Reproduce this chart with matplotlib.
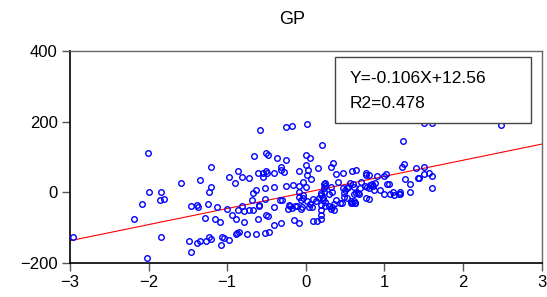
"""GP scatter with fitted line and equation box."""
import matplotlib
matplotlib.use("Agg")
import matplotlib.pyplot as plt
from matplotlib.patches import Rectangle

plt.rcParams["font.family"] = ["Liberation Sans", "DejaVu Sans"]

# ---------------------------------------------------------------------------
# Data
# ---------------------------------------------------------------------------
gp_x = [
    -2.96, -2.19, -2.09, -2.01, -2.00, -2.02, -1.84, -1.86, -1.81, -1.84,
    -1.59, -1.48, -1.46, -1.46, -1.39, -1.37, -1.35, -1.38, -1.35, -1.27,
    -1.28, -1.24, -1.23, -1.23, -1.21, -1.21, -1.20, -1.15, -1.13, -1.09,
    -1.08, -1.06, -1.04, -1.00, -0.98, -0.98,
    -0.94, -0.89, -0.79, -0.90, -0.86, -0.81, -0.72,
    -0.89, -0.87, -0.85, -0.75, -0.63, -0.52, -0.47,
    -0.81, -0.86, -0.79, -0.72, -0.67,
    -0.69, -0.52, -0.33, -0.30,
    -0.63, -0.67, -0.52, -0.40,
    -0.61, -0.51, -0.48, -0.60, -0.59, -0.40, -0.40, -0.31,
    -0.66, -0.61, -0.58, -0.54, -0.51, -0.49, -0.55,
    -0.50, -0.48, -0.40, -0.36, -0.32, -0.31, -0.28,
    -0.25, -0.18, -0.25, -0.25, -0.16,
    -0.23, -0.20, -0.18, -0.21, -0.15, -0.09,
    -0.14, -0.11, -0.06, -0.05,
    -0.09, -0.09, -0.09, -0.09, -0.06, -0.04, -0.03, -0.04,
    0.00, 0.06, 0.02, 0.00, 0.03, 0.00, 0.01, 0.07,
    0.01, 0.04, 0.08, 0.05, 0.09, 0.13, 0.17, 0.20,
    0.09, 0.14, 0.20, 0.19, 0.15, 0.21,
    0.20, 0.22, 0.23, 0.23,
    1.24, 0.35, 0.32, 0.39, 0.48, 0.59, 0.64, 0.77, 0.77, 0.81,
    0.90, 0.99, 1.02, 1.22, 1.25, 1.40, 1.50, 1.43, 1.33, 1.26, 1.32,
    0.24, 0.25, 0.23, 0.32, 0.33, 0.29, 0.41,
    0.48, 0.50, 0.52, 0.54, 0.49, 0.56, 0.60, 0.62, 0.70, 0.69,
    0.66, 0.68, 0.64, 0.61, 0.62, 0.57, 0.59, 0.63,
    0.49, 0.52, 0.46, 0.38, 0.36, 0.33, 0.36, 0.32, 0.29, 0.25, 0.24, 0.20,
    0.22, 0.20,
    0.76, 0.78, 0.80, 0.82, 0.85, 0.87, 0.84, 0.88, 0.77, 0.81,
    0.94, 0.99, 1.03, 1.06, 1.07, 1.11, 1.12, 1.18, 1.20, 1.20,
    1.51, 1.57, 1.61, 1.61, 1.44, 1.50, 1.60, 2.48,
    0.43, 0.63, 0.57,
]
gp_y = [
    -127, -76, -32, 110, 2, -187, 2, -22, -18, -127,
    27, -137, -168, -38, -36, -42, 35, -143, -138, -139,
    -73, -32, 1, -126, -133, 71, 15, -76, -42, -84,
    -149, -126, -129, -46, 42, -135,
    -63, -75, -84, 27, 60, 43, 41,
    -119, -115, -113, -118, -117, -115, -111,
    -38, -49, -52, -50, -51,
    -22, -19, -22, -22,
    7, -2, 12, 14,
    -75, -64, -68, -39, -36, -41, -93, -86,
    102, 55, 175, 55, 59, 54, 43,
    111, 106, 55, 98, 71, 62, 56,
    184, 188, 92, 18, 21,
    -48, -40, -44, -35, -78, -86,
    -39, -39, -47, -42,
    61, 18, 2, -14, -22, -9, -15, 28,
    105, 96, 192, 77, 64, 15, 50, 38,
    -26, -41, -41, -34, -19, -26, -17, -9,
    -81, -80, -77, -65, 69, 133,
    -36, -23, 0, 12,
    146, 84, 71, 53, 55, 61, 64, 55, 50, 50,
    45, 47, 53, 71, 79, 70, 71, 39, 24, 38, 2,
    27, 19, 23, 16, 1, -4, 28,
    11, 5, 13, 14, -1, 26, 24, 14, 30, 12,
    -1, -6, -1, -5, -26, -24, -31, -29,
    -12, -16, -31, -21, -33, -42, -51, -48, -38, -28, -38, -50,
    -16, -3,
    18, 14, 11, 21, 17, 5, 24, 26, -17, -19,
    5, -5, 24, 24, -6, 0, -7, -5, 0, -5,
    52, 54, 46, 11, 39, 195, 197, 189,
    -30, -30, -31,
]

# fitted line as drawn in the reference
fit_x = [-3, 3]
fit_y = [-137, 136]

eq_label = "Y=-0.106X+12.56"
r2_label = "R2=0.478"

x_ticks = [-3, -2, -1, 0, 1, 2, 3]
y_ticks = [-200, 0, 200, 400]

# ---------------------------------------------------------------------------
# Plot
# ---------------------------------------------------------------------------
fig = plt.figure(figsize=(5.47, 2.97), dpi=100)
ax = fig.add_axes([0.128, 0.1145, 0.862, 0.7145])

ax.plot(fit_x, fit_y, color="red", lw=0.8, zorder=2)
ax.plot(gp_x, gp_y, ls="none", marker="o", ms=4.0, mfc="none",
        mec="blue", mew=1.0, zorder=3)

ax.set_xlim(-3, 3)
ax.set_ylim(-200, 400)
ax.set_xticks(x_ticks)
ax.set_yticks(y_ticks)
ax.tick_params(axis="both", direction="out", length=6, width=1,
               color="#555555", labelsize=12, pad=3)

for side in ("left", "bottom"):
    ax.spines[side].set_color("black")
    ax.spines[side].set_linewidth(1.2)
for side in ("top", "right"):
    ax.spines[side].set_color("#666666")
    ax.spines[side].set_linewidth(1.0)

# equation box
ax.add_patch(Rectangle((0.562, 0.661), 0.415, 0.311, transform=ax.transAxes,
                       facecolor="white", edgecolor="#444444", lw=1.0,
                       zorder=5))
ax.text(0.592, 0.871, eq_label, transform=ax.transAxes, fontsize=12.5,
        va="center", ha="left", zorder=6)
ax.text(0.592, 0.752, r2_label, transform=ax.transAxes, fontsize=12.5,
        va="center", ha="left", zorder=6)

fig.text(0.534, 0.934, "GP", fontsize=13, ha="center", va="center")

fig.savefig("out.png", dpi=100)
